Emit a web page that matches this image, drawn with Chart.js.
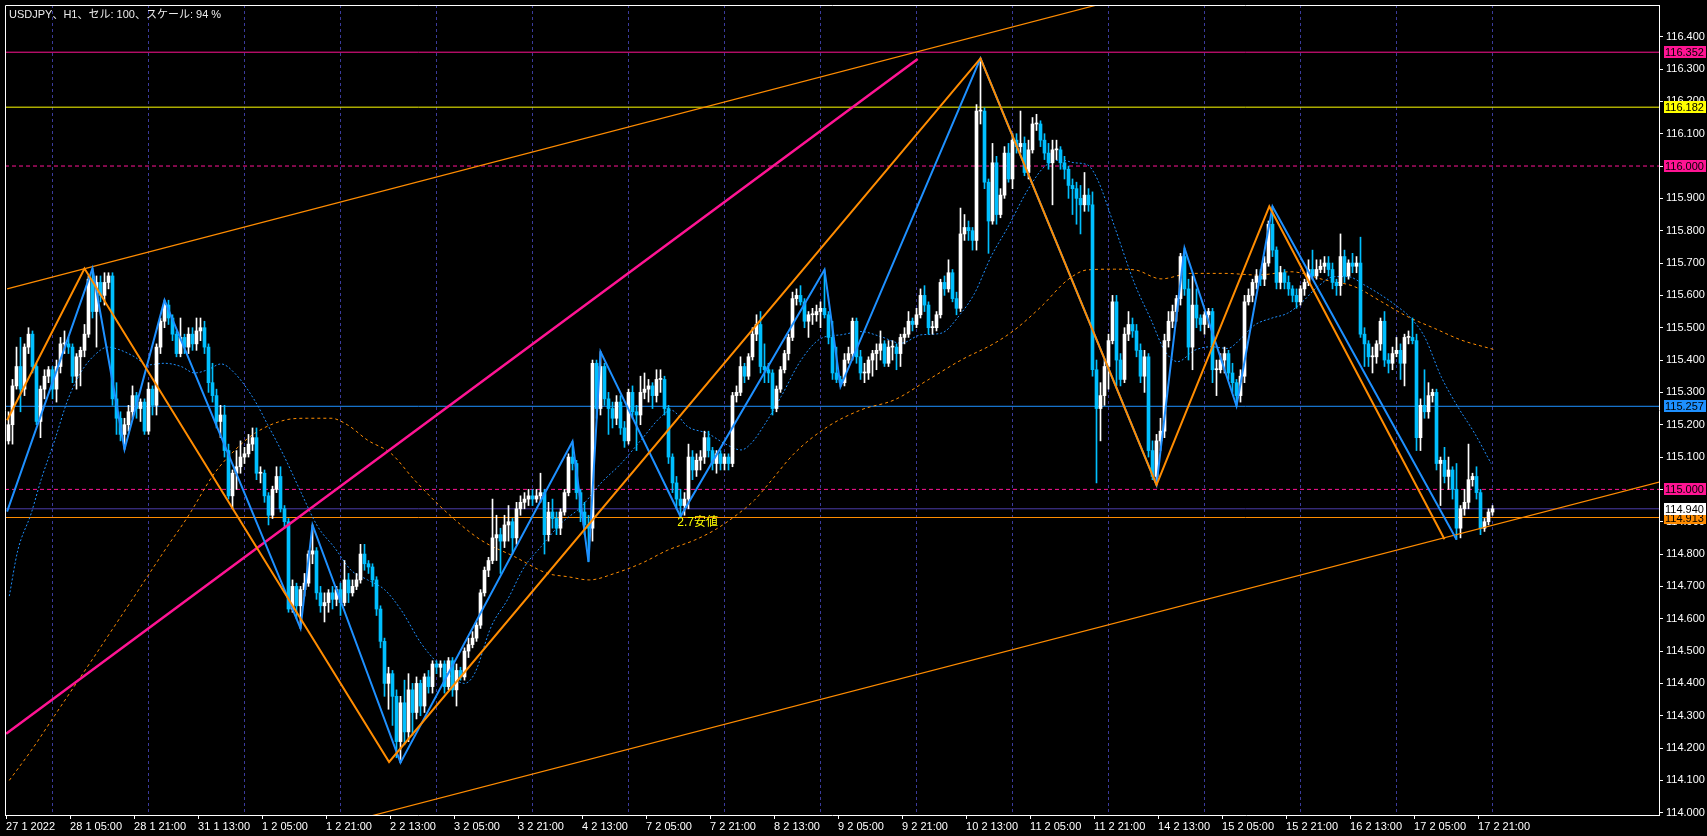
<!DOCTYPE html>
<html>
<head>
<meta charset="utf-8">
<script src="https://cdn.jsdelivr.net/npm/chart.js@4.4.1/dist/chart.umd.min.js"></script>
<style>
  html, body { margin: 0; padding: 0; background: #000; overflow: hidden; }
  canvas { display: block; }
</style>
</head>
<body>
<canvas id="chart" width="1707" height="836"></canvas>
<script>
// USDJPY H1, bar 0 = 27 1 13:00, last bar = 18 2 00:00
var titleText = 'USDJPY、H1、セル: 100、スケール: 94 %';

// time axis labels, one every 16 bars
var timeLabels = ['27 1 2022','28 1 05:00','28 1 21:00','31 1 13:00','1 2 05:00','1 2 21:00',
  '2 2 13:00','3 2 05:00','3 2 21:00','4 2 13:00','7 2 05:00','7 2 21:00','8 2 13:00',
  '9 2 05:00','9 2 21:00','10 2 13:00','11 2 05:00','11 2 21:00','14 2 13:00','15 2 05:00',
  '15 2 21:00','16 2 13:00','17 2 05:00','17 2 21:00'];
var labelStep = 16;
// first bar of every trading day (vertical grid)
var dayStartBars = [11,35,59,83,107,131,155,179,203,227,251,275,299,323,347,371];
var priceTicks = [114.0,114.1,114.2,114.3,114.4,114.5,114.6,114.7,114.8,114.9,115.0,115.1,
  115.2,115.3,115.4,115.5,115.6,115.7,115.8,115.9,116.0,116.1,116.2,116.3,116.4];

// hourly candles [open, high, low, close]
var ohlc = [
  // 27 1
  [115.15,115.24,115.14,115.20],[115.20,115.34,115.14,115.32],[115.32,115.44,115.31,115.38],[115.38,115.47,115.24,115.31],
  [115.31,115.45,115.29,115.44],[115.44,115.50,115.42,115.48],[115.48,115.49,115.36,115.38],[115.38,115.39,115.20,115.21],
  [115.21,115.32,115.16,115.31],[115.31,115.37,115.28,115.35],[115.35,115.38,115.33,115.37],
  // 28 1
  [115.37,115.38,115.28,115.31],[115.31,115.40,115.27,115.38],[115.38,115.47,115.36,115.45],[115.45,115.49,115.42,115.45],
  [115.45,115.47,115.42,115.44],[115.44,115.45,115.33,115.35],[115.35,115.42,115.31,115.41],[115.41,115.44,115.32,115.43],
  [115.43,115.51,115.41,115.48],[115.48,115.66,115.47,115.65],[115.65,115.683,115.53,115.55],[115.55,115.66,115.44,115.64],
  [115.64,115.66,115.58,115.60],[115.60,115.67,115.57,115.64],[115.64,115.67,115.62,115.66],[115.66,115.67,115.26,115.28],
  [115.28,115.33,115.17,115.22],[115.22,115.24,115.15,115.17],[115.17,115.22,115.124,115.20],[115.20,115.26,115.18,115.24],
  [115.24,115.32,115.22,115.29],[115.29,115.30,115.22,115.25],[115.25,115.28,115.21,115.27],[115.27,115.28,115.17,115.18],
  // 31 1
  [115.18,115.33,115.17,115.31],[115.31,115.32,115.23,115.26],[115.26,115.45,115.23,115.44],[115.44,115.53,115.42,115.52],
  [115.52,115.585,115.50,115.57],[115.57,115.585,115.51,115.53],[115.53,115.54,115.46,115.48],[115.48,115.49,115.41,115.42],
  [115.42,115.53,115.41,115.47],[115.47,115.48,115.42,115.44],[115.44,115.50,115.42,115.48],[115.48,115.50,115.43,115.45],
  [115.45,115.53,115.43,115.49],[115.49,115.53,115.46,115.50],[115.50,115.52,115.42,115.44],[115.44,115.45,115.30,115.33],
  [115.33,115.39,115.27,115.29],[115.29,115.31,115.19,115.21],[115.21,115.26,115.16,115.23],[115.23,115.26,115.10,115.12],
  [115.12,115.14,114.97,114.98],[114.98,115.06,114.94,115.05],[115.05,115.12,115.00,115.07],[115.07,115.15,115.05,115.10],
  // 1 2
  [115.10,115.13,115.08,115.11],[115.11,115.17,115.10,115.14],[115.14,115.19,115.12,115.16],[115.16,115.19,115.03,115.05],
  [115.05,115.07,115.02,115.05],[115.05,115.06,114.96,114.98],[114.98,114.99,114.89,114.92],[114.92,115.01,114.91,115.00],
  [115.00,115.07,114.99,115.04],[115.04,115.07,114.93,114.94],[114.94,114.95,114.88,114.90],[114.90,114.91,114.62,114.63],
  [114.63,114.72,114.62,114.70],[114.70,114.71,114.60,114.64],[114.64,114.70,114.57,114.69],[114.69,114.74,114.67,114.71],
  [114.71,114.81,114.70,114.80],[114.80,114.89,114.77,114.81],[114.81,114.82,114.66,114.68],[114.68,114.70,114.62,114.64],
  [114.64,114.68,114.59,114.65],[114.65,114.69,114.62,114.68],[114.68,114.70,114.63,114.66],[114.66,114.70,114.64,114.69],
  // 2 2
  [114.69,114.71,114.61,114.65],[114.65,114.78,114.64,114.72],[114.72,114.74,114.65,114.68],[114.68,114.72,114.67,114.70],
  [114.70,114.74,114.69,114.72],[114.72,114.83,114.71,114.80],[114.80,114.83,114.75,114.77],[114.77,114.78,114.74,114.76],
  [114.76,114.77,114.70,114.72],[114.72,114.73,114.61,114.63],[114.63,114.64,114.51,114.53],[114.53,114.54,114.36,114.40],
  [114.40,114.45,114.32,114.43],[114.43,114.44,114.27,114.36],[114.36,114.38,114.17,114.22],[114.22,114.36,114.155,114.34],
  [114.34,114.41,114.21,114.25],[114.25,114.43,114.22,114.38],[114.38,114.40,114.24,114.31],[114.31,114.42,114.29,114.40],
  [114.40,114.41,114.30,114.33],[114.33,114.43,114.31,114.42],[114.42,114.44,114.37,114.39],[114.39,114.47,114.37,114.46],
  // 3 2
  [114.46,114.47,114.43,114.45],[114.45,114.47,114.42,114.46],[114.46,114.47,114.37,114.39],[114.39,114.48,114.38,114.47],
  [114.47,114.48,114.36,114.38],[114.38,114.46,114.33,114.44],[114.44,114.45,114.41,114.42],[114.42,114.51,114.41,114.50],
  [114.50,114.54,114.48,114.52],[114.52,114.56,114.51,114.54],[114.54,114.59,114.53,114.58],[114.58,114.69,114.57,114.68],
  [114.68,114.76,114.67,114.75],[114.75,114.79,114.73,114.78],[114.78,114.97,114.77,114.85],[114.85,114.92,114.78,114.86],
  [114.86,114.88,114.74,114.84],[114.84,114.92,114.82,114.89],[114.89,114.95,114.84,114.90],[114.90,114.91,114.80,114.85],
  [114.85,114.96,114.83,114.94],[114.94,114.98,114.92,114.96],[114.96,114.99,114.94,114.97],[114.97,115.00,114.95,114.98],
  // 4 2
  [114.98,115.00,114.95,114.97],[114.97,115.00,114.96,114.98],[114.98,115.05,114.96,114.99],[114.99,115.00,114.80,114.86],
  [114.86,114.96,114.84,114.93],[114.93,114.97,114.88,114.91],[114.91,114.93,114.86,114.88],[114.88,114.94,114.86,114.93],
  [114.93,115.00,114.92,114.99],[114.99,115.11,114.98,115.10],[115.10,115.148,115.06,115.08],[115.08,115.09,114.97,114.99],
  [114.99,115.00,114.90,114.93],[114.93,114.96,114.86,114.89],[114.89,114.92,114.776,114.88],[114.88,115.40,114.84,115.39],
  [115.39,115.40,115.22,115.25],[115.25,115.426,115.23,115.38],[115.38,115.39,115.26,115.28],[115.28,115.30,115.17,115.25],
  [115.25,115.27,115.19,115.22],[115.22,115.29,115.20,115.27],[115.27,115.29,115.17,115.19],[115.19,115.21,115.13,115.15],
  // 7 2
  [115.15,115.31,115.14,115.30],[115.30,115.32,115.22,115.24],[115.24,115.26,115.12,115.23],[115.23,115.35,115.20,115.30],
  [115.30,115.36,115.28,115.31],[115.31,115.34,115.27,115.32],[115.32,115.33,115.25,115.29],[115.29,115.37,115.27,115.34],
  [115.34,115.37,115.30,115.34],[115.34,115.35,115.23,115.25],[115.25,115.26,115.08,115.10],[115.10,115.11,114.99,115.02],
  [115.02,115.04,114.94,114.97],[114.97,115.00,114.916,114.95],[114.95,114.99,114.92,114.97],[114.97,115.14,114.94,115.10],
  [115.10,115.12,115.03,115.06],[115.06,115.11,115.04,115.09],[115.09,115.12,115.06,115.10],[115.10,115.18,115.08,115.16],
  [115.16,115.18,115.10,115.12],[115.12,115.13,115.06,115.08],[115.08,115.12,115.05,115.11],[115.11,115.12,115.06,115.08],
  // 8 2
  [115.08,115.11,115.06,115.10],[115.10,115.11,115.06,115.08],[115.08,115.30,115.07,115.29],[115.29,115.32,115.27,115.30],
  [115.30,115.41,115.29,115.38],[115.38,115.39,115.33,115.35],[115.35,115.42,115.34,115.41],[115.41,115.50,115.40,115.48],
  [115.48,115.54,115.46,115.51],[115.51,115.55,115.36,115.38],[115.38,115.45,115.33,115.37],[115.37,115.39,115.33,115.36],
  [115.36,115.37,115.23,115.25],[115.25,115.32,115.24,115.31],[115.31,115.38,115.30,115.37],[115.37,115.43,115.36,115.42],
  [115.42,115.48,115.40,115.47],[115.47,115.61,115.46,115.59],[115.59,115.62,115.57,115.60],[115.60,115.63,115.57,115.58],
  [115.58,115.59,115.50,115.52],[115.52,115.55,115.47,115.54],[115.54,115.56,115.51,115.54],[115.54,115.57,115.52,115.55],
  // 9 2
  [115.55,115.58,115.50,115.56],[115.56,115.679,115.53,115.54],[115.54,115.55,115.45,115.47],[115.47,115.52,115.34,115.36],
  [115.36,115.44,115.33,115.34],[115.34,115.35,115.318,115.33],[115.33,115.42,115.32,115.40],[115.40,115.44,115.39,115.42],
  [115.42,115.53,115.40,115.52],[115.52,115.53,115.39,115.41],[115.41,115.43,115.34,115.36],[115.36,115.39,115.33,115.36],
  [115.36,115.41,115.34,115.40],[115.40,115.43,115.35,115.42],[115.42,115.45,115.37,115.43],[115.43,115.49,115.40,115.45],
  [115.45,115.46,115.38,115.39],[115.39,115.46,115.38,115.44],[115.44,115.46,115.40,115.44],[115.44,115.45,115.37,115.42],
  [115.42,115.48,115.38,115.47],[115.47,115.50,115.45,115.48],[115.48,115.55,115.47,115.52],[115.52,115.53,115.49,115.51],
  // 10 2
  [115.51,115.56,115.50,115.54],[115.54,115.62,115.53,115.60],[115.60,115.63,115.55,115.57],[115.57,115.58,115.48,115.50],
  [115.50,115.52,115.48,115.50],[115.50,115.55,115.49,115.54],[115.54,115.65,115.53,115.64],[115.64,115.66,115.60,115.62],
  [115.62,115.71,115.61,115.67],[115.67,115.68,115.58,115.59],[115.59,115.61,115.54,115.56],[115.56,115.87,115.55,115.79],
  [115.79,115.85,115.77,115.81],[115.81,115.83,115.77,115.80],[115.80,115.81,115.74,115.77],[115.77,116.19,115.74,116.17],
  [116.17,116.333,116.13,116.17],[116.17,116.18,115.93,115.95],[115.95,115.96,115.73,115.83],[115.83,116.07,115.82,116.01],
  [116.01,116.03,115.82,115.85],[115.85,115.93,115.84,115.91],[115.91,116.06,115.90,116.04],[116.04,116.07,115.95,115.96],
  // 11 2
  [115.96,116.10,115.93,116.08],[116.08,116.10,116.04,116.06],[116.06,116.17,116.04,116.07],[116.07,116.09,115.97,115.98],
  [115.98,116.08,115.96,116.05],[116.05,116.15,116.04,116.13],[116.13,116.16,116.11,116.13],[116.13,116.14,116.06,116.08],
  [116.08,116.10,116.02,116.04],[116.04,116.07,115.99,116.01],[116.01,116.08,115.88,116.05],[116.05,116.08,116.02,116.05],
  [116.05,116.06,115.99,116.01],[116.01,116.03,115.96,115.99],[115.99,116.00,115.90,115.94],[115.94,115.96,115.85,115.93],
  [115.93,115.95,115.82,115.90],[115.90,115.94,115.79,115.88],[115.88,115.98,115.86,115.91],[115.91,115.93,115.86,115.88],
  [115.88,115.92,115.35,115.37],[115.37,115.40,115.02,115.25],[115.25,115.33,115.15,115.29],[115.29,115.40,115.26,115.38],
  // 14 2
  [115.38,115.48,115.31,115.46],[115.46,115.60,115.45,115.58],[115.58,115.60,115.32,115.40],[115.40,115.42,115.32,115.34],
  [115.34,115.50,115.33,115.48],[115.48,115.55,115.46,115.51],[115.51,115.53,115.47,115.49],[115.49,115.51,115.41,115.43],
  [115.43,115.45,115.33,115.35],[115.35,115.43,115.30,115.41],[115.41,115.42,115.10,115.12],[115.12,115.15,115.03,115.04],
  [115.04,115.17,115.014,115.15],[115.15,115.22,115.12,115.18],[115.18,115.48,115.16,115.46],[115.46,115.55,115.44,115.52],
  [115.52,115.57,115.50,115.55],[115.55,115.60,115.52,115.59],[115.59,115.73,115.57,115.72],[115.72,115.746,115.60,115.62],
  [115.62,115.65,115.40,115.44],[115.44,115.66,115.37,115.57],[115.57,115.62,115.50,115.53],[115.53,115.54,115.49,115.51],
  // 15 2
  [115.51,115.55,115.48,115.54],[115.54,115.56,115.50,115.55],[115.55,115.56,115.33,115.37],[115.37,115.40,115.29,115.37],
  [115.37,115.42,115.36,115.40],[115.40,115.44,115.36,115.42],[115.42,115.43,115.34,115.36],[115.36,115.39,115.30,115.33],
  [115.33,115.34,115.258,115.29],[115.29,115.37,115.27,115.35],[115.35,115.60,115.33,115.58],[115.58,115.62,115.57,115.60],
  [115.60,115.65,115.58,115.64],[115.64,115.68,115.62,115.66],[115.66,115.68,115.63,115.65],[115.65,115.72,115.63,115.70],
  [115.70,115.83,115.69,115.82],[115.82,115.875,115.72,115.74],[115.74,115.75,115.62,115.64],[115.64,115.69,115.62,115.67],
  [115.67,115.68,115.62,115.64],[115.64,115.66,115.60,115.62],[115.62,115.63,115.58,115.60],[115.60,115.62,115.56,115.58],
  // 16 2
  [115.58,115.63,115.57,115.62],[115.62,115.65,115.60,115.64],[115.64,115.71,115.63,115.68],[115.68,115.74,115.65,115.66],
  [115.66,115.71,115.65,115.68],[115.68,115.71,115.67,115.69],[115.69,115.72,115.67,115.70],[115.70,115.72,115.66,115.68],
  [115.68,115.70,115.62,115.64],[115.64,115.65,115.60,115.63],[115.63,115.79,115.60,115.72],[115.72,115.74,115.64,115.66],
  [115.66,115.71,115.65,115.70],[115.70,115.73,115.67,115.69],[115.69,115.72,115.67,115.70],[115.70,115.78,115.47,115.48],
  [115.48,115.50,115.38,115.45],[115.45,115.46,115.38,115.41],[115.41,115.44,115.36,115.41],[115.41,115.46,115.39,115.45],
  [115.45,115.53,115.43,115.52],[115.52,115.55,115.38,115.40],[115.40,115.42,115.36,115.39],[115.39,115.44,115.37,115.42],
  // 17 2
  [115.42,115.47,115.41,115.43],[115.43,115.45,115.34,115.39],[115.39,115.48,115.32,115.47],[115.47,115.49,115.45,115.47],
  [115.47,115.53,115.45,115.46],[115.46,115.48,115.12,115.16],[115.16,115.28,115.12,115.26],[115.26,115.37,115.22,115.24],
  [115.24,115.33,115.22,115.29],[115.29,115.31,115.27,115.30],[115.30,115.31,115.06,115.08],[115.08,115.10,114.95,115.09],
  [115.09,115.13,115.02,115.04],[115.04,115.10,115.00,115.06],[115.06,115.07,114.97,115.00],[115.00,115.08,114.845,114.88],
  [114.88,114.95,114.85,114.94],[114.94,115.00,114.92,114.96],[114.96,115.14,114.94,115.03],[115.03,115.05,115.01,115.04],
  [115.04,115.07,114.97,114.99],[114.99,115.00,114.86,114.88],[114.88,114.91,114.87,114.90],[114.90,114.94,114.89,114.93],
  // 18 2
  [114.93,114.95,114.92,114.94]
];

// moving averages read at sample bars [bar, price]
var maFast = [[0.2,114.67],[2.3,114.81],[5.65,114.925],[8.15,115.03],[11.5,115.15],[14.8,115.276],[18.2,115.364],
  [21.5,115.415],[24.8,115.44],[28.15,115.43],[31.5,115.41],[34.8,115.385],[39,115.39],[43.15,115.38],[46.5,115.36],
  [49.8,115.37],[53.15,115.388],[56.5,115.36],[61.5,115.276],[64.8,115.20],[69,115.10],[73.15,114.99],[77.3,114.885],
  [81.5,114.82],[85.65,114.75],[89.8,114.72],[94,114.69],[98.15,114.627],[103.15,114.524],[107.3,114.462],
  [110.65,114.421],[114,114.40],[116.5,114.43],[120.65,114.575],[124.8,114.66],[129,114.761],[133.15,114.823],
  [138.15,114.895],[143.15,114.946],[148.15,115.02],[153.15,115.08],[158.15,115.153],[163.15,115.225],[165.65,115.245],
  [169.8,115.194],[174.8,115.173],[179,115.142],[183.15,115.122],[185.65,115.142],[189,115.20],[193.15,115.287],
  [198.15,115.40],[203.15,115.467],[208.15,115.478],[213.15,115.488],[218.15,115.472],[223.15,115.452],[228.15,115.478],
  [233.15,115.483],[238.15,115.545],[241.5,115.606],[245.65,115.72],[249.8,115.81],[254.8,115.926],[259,115.998],
  [263.15,116.019],[266.5,116.01],[269.8,116.003],[272.3,115.957],[276.5,115.813],[281.5,115.637],[285.65,115.524],
  [289,115.43],[292.3,115.395],[296.5,115.43],[300.65,115.441],[304.8,115.436],[308.15,115.467],[311.5,115.508],
  [315.65,115.529],[319.8,115.545],[323.15,115.576],[327.3,115.627],[331.5,115.658],[334.8,115.658],[339,115.632],
  [343.15,115.601],[347.3,115.565],[350.65,115.529],[354,115.472],[358.15,115.349],[362.3,115.256],[366.5,115.174],
  [370.65,115.08]];
var maSlow = [[0.2,114.10],[6.05,114.199],[11.5,114.30],[16.5,114.392],[21.5,114.484],[26.5,114.577],[31.5,114.67],
  [34.8,114.732],[39.8,114.825],[44.8,114.915],[51.5,115.05],[56.5,115.12],[61.5,115.173],[69,115.214],[74.8,115.22],
  [80.65,115.22],[84.8,115.199],[89.8,115.152],[95.65,115.111],[101.5,115.029],[109.8,114.926],[118.15,114.843],
  [126.5,114.792],[134.8,114.74],[139.8,114.73],[145.2,114.72],[151.5,114.74],[158.15,114.771],[164.8,114.812],
  [171.5,114.843],[176.5,114.874],[181.5,114.916],[186.5,114.967],[190.2,115.02],[196.5,115.112],[204.8,115.194],
  [213.15,115.246],[221.5,115.277],[229.8,115.338],[238.15,115.40],[246.5,115.452],[251.5,115.493],[258.15,115.565],
  [264.8,115.648],[269.8,115.679],[276.5,115.681],[281.5,115.679],[288.15,115.651],[295.65,115.668],[304,115.668],
  [312.3,115.663],[320.65,115.673],[329,115.648],[336.5,115.627],[343.15,115.581],[349.8,115.534],[356.5,115.498],
  [363.15,115.462],[371.2,115.433]];

// zigzag vertices [bar, price]
var zigzagOrange = [[-0.35,115.214],[19,115.683],[95.15,114.157],[243,116.333],[287,115.014],[315.2,115.875],[359,114.846]];
var zigzagBlue = [[-0.35,114.931],[21,115.683],[29,115.124],[39,115.585],[73,114.57],[76,114.89],[98,114.155],
  [141,115.148],[145,114.776],[148,115.426],[168,114.916],[204,115.679],[208,115.318],[243,116.333],[287,115.014],
  [294,115.746],[307,115.258],[316,115.875],[362,114.845]];

// trend lines [bar, price] where they enter / leave the window
var trendUpper = [[-0.35,115.62],[272.7,116.50]];
var trendLower = [[90.6,113.99],[412.9,115.023]];
var trendPink = [[-0.6,114.244],[227.3,116.331]];

// horizontal levels
var levelPrices = [116.352, 116.182, 116.000, 115.257, 115.000, 114.913, 114.940];
var levelColors = ['#ff1493', '#ffff00', '#ff1493', '#1e90ff', '#ff1493', '#ff8c00', '#4b3ca8'];
var levelDashed = [false, false, true, false, true, false, false];
var levelLabelBg = ['#ff1493', '#ffff00', '#ff1493', '#1e90ff', '#ff1493', '#ff8c00', '#ffffff'];

var notes = [['2.7安値', 167.2, 114.896]];

var xMin = -0.875, xMax = 412.625;
var yMin = 113.993, yMax = 116.498;
var uiFont = "'Liberation Sans', Arial, sans-serif";

function pts(arr) { return arr.map(function (p) { return { x: p[0], y: p[1] }; }); }

function lineSet(data, color, width, dash, order, smooth) {
  return {
    type: 'line', data: data, borderColor: color, borderWidth: width, borderDash: dash || [],
    pointRadius: 0, fill: false, tension: 0, order: order, clip: 0,
    cubicInterpolationMode: smooth ? 'monotone' : 'default'
  };
}

var candleColors = ohlc.map(function (c) { return c[3] >= c[0] ? '#ffffff' : '#00bfff'; });
var wickData = ohlc.map(function (c, i) { return { x: i, y: [c[2], c[1]] }; });
var bodyData = ohlc.map(function (c, i) { return { x: i, y: [c[0], c[3]] }; });

var datasets = [];
levelPrices.forEach(function (p, i) {
  datasets.push(lineSet([{ x: xMin, y: p }, { x: xMax, y: p }], levelColors[i], 1, levelDashed[i] ? [4, 3] : [], 20));
});
datasets.push(lineSet(pts(maSlow), '#ff8c00', 1, [3, 3], 12, true));
datasets.push(lineSet(pts(maFast), '#1e90ff', 1, [2, 2], 11, true));
datasets.push({ type: 'bar', data: wickData, backgroundColor: candleColors, borderWidth: 0,
  barThickness: 1, grouped: false, order: 9 });
datasets.push({ type: 'bar', data: bodyData, backgroundColor: candleColors, borderWidth: 0,
  barThickness: 3, minBarLength: 1, grouped: false, order: 8 });
datasets.push(lineSet(pts(trendUpper), '#ff8c00', 1.2, [], 6));
datasets.push(lineSet(pts(trendLower), '#ff8c00', 1.2, [], 6));
datasets.push(lineSet(pts(trendPink), '#ff1493', 2.5, [], 5));
datasets.push(lineSet(pts(zigzagBlue), '#1e90ff', 2, [], 4));
datasets.push(lineSet(pts(zigzagOrange), '#ff8c00', 2, [], 3));

var mtPlugin = {
  id: 'mt',
  beforeDraw: function (chart) {
    var ctx = chart.ctx;
    ctx.save();
    ctx.fillStyle = '#000';
    ctx.fillRect(0, 0, chart.width, chart.height);
    ctx.restore();
  },
  afterDraw: function (chart) {
    var ctx = chart.ctx, a = chart.chartArea, ys = chart.scales.y, xs = chart.scales.x;
    ctx.save();
    // frame, left and top
    ctx.strokeStyle = '#ffffff';
    ctx.lineWidth = 1;
    ctx.beginPath();
    ctx.moveTo(a.left + 0.5, a.bottom);
    ctx.lineTo(a.left + 0.5, a.top + 0.5);
    ctx.lineTo(a.right, a.top + 0.5);
    ctx.stroke();
    // level price boxes on the axis
    ctx.font = '11px ' + uiFont;
    ctx.textBaseline = 'middle';
    ctx.textAlign = 'left';
    levelPrices.forEach(function (p, i) {
      var y = Math.round(ys.getPixelForValue(p));
      ctx.fillStyle = levelLabelBg[i];
      ctx.fillRect(a.right + 5, y - 6, 42, 12);
      ctx.fillStyle = '#000000';
      ctx.fillText(p.toFixed(3), a.right + 6, y + 0.5);
    });
    // chart notes
    ctx.font = '12px ' + uiFont + ", 'Noto Sans CJK JP'";
    ctx.fillStyle = '#ffff00';
    notes.forEach(function (n) {
      ctx.fillText(n[0], xs.getPixelForValue(n[1]), ys.getPixelForValue(n[2]));
    });
    // title
    ctx.font = "11px 'Liberation Sans', 'Noto Sans CJK JP', sans-serif";
    ctx.fillStyle = '#ececec';
    ctx.fillText(titleText, a.left + 4, a.top + 10);
    ctx.restore();
  }
};

new Chart(document.getElementById('chart'), {
  type: 'bar',
  data: { datasets: datasets },
  plugins: [mtPlugin],
  options: {
    responsive: false,
    animation: false,
    devicePixelRatio: 1,
    events: [],
    layout: { padding: { left: 5, top: 5, right: 0, bottom: 0 } },
    plugins: { legend: { display: false }, tooltip: { enabled: false } },
    scales: {
      x: {
        type: 'linear', min: xMin, max: xMax, position: 'bottom', offset: false,
        afterBuildTicks: function (s) {
          s.ticks = timeLabels.map(function (t, i) { return { value: i * labelStep - 0.6 }; });
        },
        afterFit: function (s) { s.height = 21; s.paddingLeft = 0; s.paddingRight = 0; },
        ticks: {
          autoSkip: false, maxRotation: 0, minRotation: 0, align: 'start', padding: 1,
          color: '#ffffff', font: { size: 11, family: "'Liberation Sans Narrow', " + uiFont },
          callback: function (v, i) { return timeLabels[i]; }
        },
        grid: { offset: false, drawOnChartArea: false, drawTicks: true, tickLength: 4, color: '#ffffff' },
        border: { display: true, color: '#ffffff' }
      },
      xg: {
        type: 'linear', min: xMin, max: xMax, position: 'bottom', offset: false,
        afterBuildTicks: function (s) {
          s.ticks = dayStartBars.map(function (b) { return { value: b }; });
        },
        afterFit: function (s) { s.height = 0; s.paddingLeft = 0; s.paddingRight = 0; },
        ticks: { display: false },
        grid: { offset: false, drawOnChartArea: true, drawTicks: false, color: '#3a3a9a', lineWidth: 1 },
        border: { display: false, dash: [3, 3] }
      },
      y: {
        type: 'linear', min: yMin, max: yMax, position: 'right',
        afterBuildTicks: function (s) {
          s.ticks = priceTicks.map(function (v) { return { value: v }; });
        },
        afterFit: function (s) { s.width = 48; s.paddingTop = 0; s.paddingBottom = 0; },
        ticks: {
          padding: 3, color: '#ffffff', font: { size: 11, family: uiFont },
          callback: function (v) { return Number(v).toFixed(3); }
        },
        grid: { drawOnChartArea: false, drawTicks: true, tickLength: 4, color: '#ffffff' },
        border: { display: true, color: '#ffffff' }
      }
    }
  }
});
</script>
</body>
</html>
